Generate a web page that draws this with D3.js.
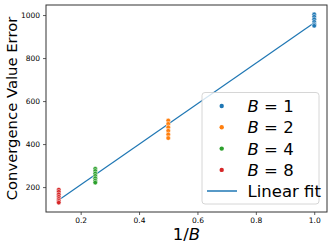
<!DOCTYPE html>
<html>
<head>
<meta charset="utf-8">
<script src="https://cdn.jsdelivr.net/npm/d3@7"></script>
<style>
  body { margin: 0; background: #fff; }
  text { font-family: "DejaVu Sans", sans-serif; }
</style>
</head>
<body>
<svg id="chart" width="332" height="247"></svg>
<script>
// values
var batchSizes = [1, 2, 4, 8];
var errB1 = [1003, 992, 980, 968, 957, 950];
var errB2 = [510, 494, 478, 462, 445, 428];
var errB4 = [285, 275, 263, 252, 241, 230, 221];
var errB8 = [188, 178, 166, 155, 145, 136, 128];
var xTicks = [0.2, 0.4, 0.6, 0.8, 1.0];
var yTicks = [200, 400, 600, 800, 1000];
var colors = ['#1f77b4', '#ff7f0e', '#2ca02c', '#d62728'];

var groups = [errB1, errB2, errB4, errB8].map(function(vals, i) {
  return { b: batchSizes[i], x: 1 / batchSizes[i], vals: vals, color: colors[i] };
});

var pts = [];
groups.forEach(function(g) {
  g.vals.forEach(function(v) { pts.push({ x: g.x, y: v, color: g.color }); });
});

// least squares fit
var mx = d3.mean(pts, function(d) { return d.x; });
var my = d3.mean(pts, function(d) { return d.y; });
var sxy = d3.sum(pts, function(d) { return (d.x - mx) * (d.y - my); });
var sxx = d3.sum(pts, function(d) { return (d.x - mx) * (d.x - mx); });
var slope = sxy / sxx, icept = my - slope * mx;

var svg = d3.select('#chart');
var pL = 46, pT = 5, pR = 327, pB = 212;

var xmin = d3.min(pts, function(d) { return d.x; }), xmax = d3.max(pts, function(d) { return d.x; });
var ymin = d3.min(pts, function(d) { return d.y; }), ymax = d3.max(pts, function(d) { return d.y; });
var xpad = (xmax - xmin) * 0.05, ypad = (ymax - ymin) * 0.05;

var x = d3.scaleLinear().domain([xmin - xpad, xmax + xpad]).range([pL, pR]);
var y = d3.scaleLinear().domain([ymin - ypad, ymax + ypad]).range([pB, pT]);

var xAxis = svg.append('g').attr('transform', 'translate(0,' + pB + ')')
  .call(d3.axisBottom(x).tickValues(xTicks).tickFormat(d3.format('.1f')).tickSize(3).tickPadding(3));
var yAxis = svg.append('g').attr('transform', 'translate(' + pL + ',0)')
  .call(d3.axisLeft(y).tickValues(yTicks).tickFormat(d3.format('d')).tickSize(3).tickPadding(3));
[xAxis, yAxis].forEach(function(a) {
  a.select('.domain').remove();
  a.selectAll('text').style('font-size', '7.5px').attr('fill', '#000');
  a.selectAll('line').attr('stroke', '#333').attr('stroke-width', 0.8);
});

// fit line
svg.append('line')
  .attr('x1', x(xmin)).attr('y1', y(icept + slope * xmin))
  .attr('x2', x(xmax)).attr('y2', y(icept + slope * xmax))
  .attr('stroke', '#1f77b4').attr('stroke-width', 1.2);

svg.selectAll('circle.pt').data(pts).enter().append('circle')
  .attr('class', 'pt')
  .attr('cx', function(d) { return x(d.x); })
  .attr('cy', function(d) { return y(d.y); })
  .attr('r', 2.3)
  .attr('fill', function(d) { return d.color; })
  .attr('stroke', '#fff').attr('stroke-width', 0.5);

// frame
svg.append('rect').attr('x', pL).attr('y', pT)
  .attr('width', pR - pL).attr('height', pB - pT)
  .attr('fill', 'none').attr('stroke', '#333').attr('stroke-width', 1);

// legend
var lg = svg.append('g');
lg.append('rect').attr('x', 202).attr('y', 92.5).attr('width', 117).attr('height', 111.5)
  .attr('rx', 3).attr('fill', '#fff').attr('fill-opacity', 0.8)
  .attr('stroke', '#ccc').attr('stroke-width', 0.8);
groups.forEach(function(g, i) {
  var ly = 106 + i * 21.3;
  lg.append('circle').attr('cx', 221.7).attr('cy', ly).attr('r', 2.2).attr('fill', g.color);
  var t = lg.append('text').attr('x', 247.5).attr('y', ly + 6).style('font-size', '16.5px');
  t.append('tspan').attr('font-style', 'italic').text('B');
  t.append('tspan').text(' = ' + g.b);
});
lg.append('line').attr('x1', 207).attr('x2', 237).attr('y1', 191).attr('y2', 191)
  .attr('stroke', '#1f77b4').attr('stroke-width', 1.5);
lg.append('text').attr('x', 247.5).attr('y', 197).style('font-size', '16.5px').text('Linear fit');

// axis labels
var xl = svg.append('text').attr('x', (pL + pR) / 2).attr('y', 240)
  .attr('text-anchor', 'middle').style('font-size', '16.5px');
xl.append('tspan').text('1/');
xl.append('tspan').attr('font-style', 'italic').text('B');
svg.append('text').attr('transform', 'translate(16.5,' + (pT + pB) / 2 + ') rotate(-90)')
  .attr('text-anchor', 'middle').style('font-size', '14.8px').text('Convergence Value Error');
</script>
</body>
</html>
